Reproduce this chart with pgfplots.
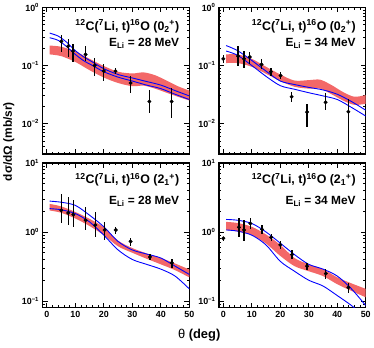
\documentclass[border=0pt]{standalone}
\usepackage{fontspec}
\setmainfont{Liberation Sans}
\usepackage{pgfplots}
\pgfplotsset{compat=1.18}
\usepgfplotslibrary{fillbetween}
\definecolor{bandred}{RGB}{243,104,104}

\pgfplotsset{
  every axis/.append style={
    scale only axis, width=148pt, xmin=-1.5, xmax=50,
    tick align=inside, major tick length=5pt, minor tick length=2.5pt,
    xtick={0,10,20,30,40,50}, minor x tick num=4,
    axis line style={line width=1.1pt},
    every tick/.style={black, line width=0.8pt},
    tick label style={font=\bfseries\fontsize{9}{10}\selectfont},
  },
}
\tikzset{
  blueline/.style={blue, line width=0.9pt, smooth},
  bandedge/.style={draw=none, smooth},
  bandfill/.style={fill=bandred, draw=none},
}
\newcommand{\ttl}[2]{{\bfseries\fontsize{12.5}{14}\selectfont\textsuperscript{12}C(\textsuperscript{7}Li, t)\textsuperscript{16}O (#1\textsubscript{#2}\kern-0.02em\textsuperscript{+})}}
\newcommand{\elab}[1]{{\bfseries\fontsize{12}{14}\selectfont E\textsubscript{Li} = #1 MeV}}

\begin{document}
\begin{tikzpicture}

% ---------------- top left ----------------
\begin{axis}[at={(42pt,195pt)}, anchor=south west, height=148pt, ymode=log, ymin=0.003, ymax=1,
    ytick={0.01,0.1,1},
    yticklabels={10\textsuperscript{−2},10\textsuperscript{−1},10\textsuperscript{0}},
    minor ytick={0.003,0.004,0.005,0.006,0.007,0.008,0.009,0.02,0.03,0.04,0.05,0.06,0.07,0.08,0.09,0.2,0.3,0.4,0.5,0.6,0.7,0.8,0.9},
    xticklabels={}]
\addplot[bandedge, name path=up, forget plot] coordinates {(1,0.22)(5,0.21)(10,0.175)(15,0.13)(20,0.098)(25,0.078)(30,0.073)(34,0.076)(38,0.068)(42,0.055)(46,0.044)(50,0.037)};
\addplot[bandedge, name path=lo, forget plot] coordinates {(1,0.155)(5,0.145)(10,0.115)(15,0.083)(20,0.062)(25,0.05)(30,0.044)(34,0.045)(38,0.04)(42,0.034)(46,0.029)(50,0.025)};
\addplot[bandfill] fill between[of=up and lo];
\addplot[blueline, mark=none] coordinates {(1,0.36)(4,0.32)(7,0.25)(10,0.18)(13,0.14)(16,0.115)(20,0.088)(25,0.07)(30,0.061)(35,0.053)(40,0.046)(45,0.037)(50,0.03)};
\addplot[blueline, mark=none] coordinates {(1,0.30)(4,0.27)(7,0.21)(10,0.155)(13,0.12)(16,0.1)(20,0.078)(25,0.063)(30,0.054)(35,0.046)(40,0.04)(45,0.032)(50,0.026)};
\addplot[only marks, mark=*, mark size=1.8pt, black,
    error bars/.cd, y dir=both, y explicit, error mark=none,
    error bar style={line width=1.3pt, black}]
  table[x=x, y=y, y error plus=ep, y error minus=em] {
x y ep em
5.1 0.26 0.07 0.09
7.5 0.215 0.065 0.075
9.2 0.177 0.053 0.06
13.6 0.155 0.06 0.037
16.8 0.10 0.035 0.033
20.0 0.08 0.024 0.026
24.1 0.08 0.011 0.01
29.4 0.05 0.015 0.017
36.0 0.024 0.014 0.009
43.8 0.024 0.017 0.0115
};
\node[anchor=east] at (rel axis cs:0.955,0.87) {\ttl{0}{2}};
\node[anchor=east] at (rel axis cs:0.955,0.757) {\elab{28}};
\end{axis}

% ---------------- top right ----------------
\begin{axis}[at={(220pt,195pt)}, anchor=south west, height=148pt, ymode=log, ymin=0.003, ymax=1,
    ytick={0.01,0.1,1},
    yticklabels={10\textsuperscript{−2},10\textsuperscript{−1},10\textsuperscript{0}},
    minor ytick={0.003,0.004,0.005,0.006,0.007,0.008,0.009,0.02,0.03,0.04,0.05,0.06,0.07,0.08,0.09,0.2,0.3,0.4,0.5,0.6,0.7,0.8,0.9},
    xticklabels={}]
\addplot[bandedge, name path=up, forget plot] coordinates {(1,0.155)(5,0.155)(10,0.13)(15,0.095)(20,0.07)(25,0.055)(30,0.056)(34,0.057)(38,0.046)(42,0.035)(46,0.029)(50,0.031)};
\addplot[bandedge, name path=lo, forget plot] coordinates {(1,0.11)(5,0.11)(10,0.095)(15,0.072)(20,0.054)(25,0.043)(30,0.04)(34,0.04)(38,0.032)(42,0.025)(46,0.021)(50,0.022)};
\addplot[bandfill] fill between[of=up and lo];
\addplot[blueline, mark=none] coordinates {(1,0.22)(5,0.18)(10,0.122)(15,0.08)(20,0.054)(25,0.047)(30,0.042)(35,0.038)(40,0.032)(45,0.024)(50,0.017)};
\addplot[blueline, mark=none] coordinates {(1,0.177)(5,0.15)(10,0.1)(15,0.065)(20,0.045)(25,0.039)(30,0.034)(35,0.03)(40,0.026)(45,0.019)(50,0.0135)};
\addplot[only marks, mark=*, mark size=1.8pt, black,
    error bars/.cd, y dir=both, y explicit, error mark=none,
    error bar style={line width=1.3pt, black}]
  table[x=x, y=y, y error plus=ep, y error minus=em] {
x y ep em
0.0 0.13 0.02 0.02
5.2 0.145 0.07 0.048
7.3 0.13 0.05 0.04
9.3 0.14 0.03 0.034
13.4 0.104 0.026 0.016
16.7 0.078 0.012 0.012
20.1 0.067 0.011 0.009
24.0 0.029 0.006 0.005
29.4 0.0158 0.0062 0.0071
35.9 0.0233 0.0097 0.0063
43.9 0.016 0.011 0.0159
};
\node[anchor=east] at (rel axis cs:0.955,0.87) {\ttl{0}{2}};
\node[anchor=east] at (rel axis cs:0.955,0.757) {\elab{34}};
\end{axis}

% ---------------- bottom left ----------------
\begin{axis}[at={(42pt,40pt)}, anchor=south west, height=146pt, ymode=log, ymin=0.08, ymax=10,
    ytick={0.1,1,10},
    yticklabels={10\textsuperscript{−1},10\textsuperscript{0},10\textsuperscript{1}},
    minor ytick={0.08,0.09,0.2,0.3,0.4,0.5,0.6,0.7,0.8,0.9,2,3,4,5,6,7,8,9},
    xticklabels={0,10,20,30,40,50}]
\addplot[bandedge, name path=up, forget plot] coordinates {(1,2.55)(5,2.35)(10,1.95)(15,1.55)(20,1.17)(25,0.75)(30,0.585)(35,0.49)(40,0.42)(45,0.35)(50,0.286)};
\addplot[bandedge, name path=lo, forget plot] coordinates {(1,2.05)(5,1.9)(10,1.57)(15,1.22)(20,0.9)(25,0.62)(30,0.5)(35,0.41)(40,0.34)(45,0.28)(50,0.22)};
\addplot[bandfill] fill between[of=up and lo];
\addplot[blueline, mark=none] coordinates {(1,2.8)(5,2.7)(10,2.43)(15,1.75)(20,1.19)(25,0.73)(30,0.55)(35,0.48)(40,0.42)(45,0.32)(50,0.243)};
\addplot[blueline, mark=none] coordinates {(1,2.18)(5,2.1)(10,1.85)(15,1.4)(20,0.9)(25,0.55)(30,0.4)(35,0.34)(40,0.29)(45,0.23)(50,0.15)};
\addplot[only marks, mark=*, mark size=1.8pt, black,
    error bars/.cd, y dir=both, y explicit, error mark=none,
    error bar style={line width=1.3pt, black}]
  table[x=x, y=y, y error plus=ep, y error minus=em] {
x y ep em
5.1 2.06 1.51 0.73
7.5 1.89 1.31 0.63
9.3 1.78 1.08 0.59
13.6 1.48 0.82 0.41
17.0 1.26 0.69 0.40
20.3 1.07 0.33 0.30
24.2 1.07 0.13 0.12
29.4 0.73 0.08 0.11
36.2 0.435 0.045 0.045
43.9 0.357 0.053 0.057
};
\node[anchor=east] at (rel axis cs:0.955,0.884) {\ttl{2}{1}};
\node[anchor=east] at (rel axis cs:0.955,0.735) {\elab{28}};
\end{axis}

% ---------------- bottom right ----------------
\begin{axis}[at={(220pt,40pt)}, anchor=south west, height=146pt, ymode=log, ymin=0.08, ymax=10,
    ytick={0.1,1,10},
    yticklabels={10\textsuperscript{−1},10\textsuperscript{0},10\textsuperscript{1}},
    minor ytick={0.08,0.09,0.2,0.3,0.4,0.5,0.6,0.7,0.8,0.9,2,3,4,5,6,7,8,9},
    xticklabels={0,10,20,30,40,50}]
\addplot[bandedge, name path=up, forget plot] coordinates {(1,1.4)(5,1.35)(10,1.19)(15,0.92)(20,0.65)(25,0.42)(30,0.34)(35,0.29)(40,0.22)(45,0.18)(50,0.15)};
\addplot[bandedge, name path=lo, forget plot] coordinates {(1,1.07)(5,1.02)(10,0.9)(15,0.68)(20,0.45)(25,0.32)(30,0.27)(35,0.23)(40,0.175)(45,0.14)(50,0.113)};
\addplot[bandfill] fill between[of=up and lo];
\addplot[blueline, mark=none] coordinates {(1,1.52)(5,1.48)(10,1.33)(15,1.0)(20,0.69)(25,0.47)(30,0.34)(35,0.29)(40,0.23)(45,0.15)(50,0.086)};
\addplot[blueline, mark=none] coordinates {(1,1.07)(5,1.03)(10,0.9)(15,0.65)(20,0.376)(25,0.27)(30,0.2)(35,0.165)(40,0.12)(45,0.086)(50,0.058)};
\addplot[only marks, mark=*, mark size=1.8pt, black,
    error bars/.cd, y dir=both, y explicit, error mark=none,
    error bar style={line width=1.3pt, black}]
  table[x=x, y=y, y error plus=ep, y error minus=em] {
x y ep em
0.0 0.81 0.05 0.07
5.5 1.17 0.40 0.31
7.3 1.07 0.41 0.32
9.5 1.33 0.27 0.22
13.6 1.09 0.16 0.15
16.8 0.84 0.10 0.11
20.0 0.65 0.08 0.09
24.1 0.47 0.07 0.06
29.4 0.32 0.04 0.04
36.0 0.25 0.04 0.04
43.9 0.157 0.023 0.027
};
\node[anchor=east] at (rel axis cs:0.955,0.884) {\ttl{2}{1}};
\node[anchor=east] at (rel axis cs:0.955,0.735) {\elab{34}};
\end{axis}

\node[rotate=90, font=\bfseries\fontsize{12}{14}\selectfont] at (8pt,207.5pt) {dσ/dΩ (mb/sr)};
\node[font=\bfseries\fontsize{13}{15}\selectfont] at (200pt,12pt) {{\mdseries θ} (deg)};
\path (0,0) rectangle (374pt,349pt);
\end{tikzpicture}
\end{document}
